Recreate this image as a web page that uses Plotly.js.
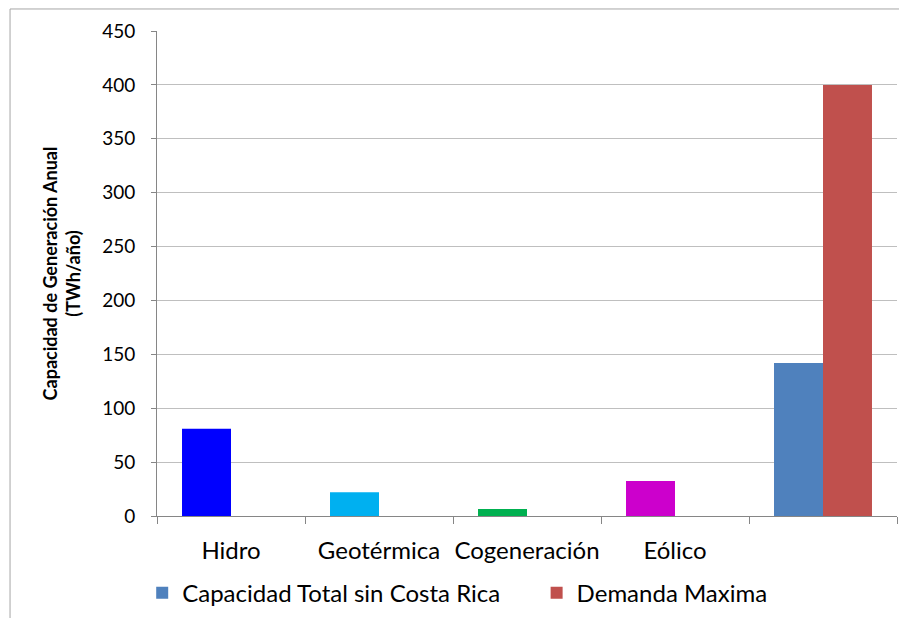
<!DOCTYPE html>
<html>
<head>
<meta charset="utf-8">
<script src="https://cdn.plot.ly/plotly-3.0.1.min.js"></script>
<style>html,body{margin:0;padding:0;background:#fff;}#chart{width:899px;height:618px;}</style>
</head>
<body>
<div id="chart"></div>
<script>
const categories = ["Hidro", "Geotérmica", "Cogeneración", "Eólico", " "];
const seriesNames = ["Capacidad Total sin Costa Rica", "Demanda Maxima"];
const capacidad = [81, 22, 6.5, 32.5, 142];
const demanda = [null, null, null, null, 400];
const capacidadColors = ["#0000FF", "#00B0F0", "#00B050", "#CC00CC", "#4F81BD"];
const seriesColors = ["#4F81BD", "#C0504D"];
const yTicks = [0, 50, 100, 150, 200, 250, 300, 350, 400, 450];

const font = "Lato, 'Open Sans', 'Liberation Sans', sans-serif";

const traces = [
  {type: "bar", x: categories, y: capacidad, name: seriesNames[0], offsetgroup: "a",
   marker: {color: capacidadColors}, showlegend: false, hoverinfo: "x+y"},
  {type: "bar", x: categories, y: categories.map(() => null), name: seriesNames[0], offsetgroup: "a",
   marker: {color: seriesColors[0]}, showlegend: true, legend: "legend"},
  {type: "bar", x: categories, y: demanda, name: seriesNames[1], offsetgroup: "b",
   marker: {color: seriesColors[1]}, showlegend: true, legend: "legend2"}
];

const legendCommon = {orientation: "h", xanchor: "left", y: -0.159, yanchor: "middle",
  font: {size: 24, family: font}, itemwidth: 30, bgcolor: "rgba(0,0,0,0)"};

const layout = {
  width: 899, height: 618,
  margin: {l: 157, r: 2, t: 31, b: 102},
  paper_bgcolor: "#fff", plot_bgcolor: "#fff",
  font: {family: font, size: 19, color: "#000"},
  barmode: "group", bargap: 0.338, bargroupgap: 0,
  xaxis: {type: "category", tickson: "boundaries", ticks: "outside", ticklen: 7,
    tickcolor: "#868686", showline: true, linecolor: "#868686", linewidth: 1,
    showgrid: false, tickangle: 0, tickfont: {size: 24, family: font}, ticklabelstandoff: 13, automargin: false},
  yaxis: {range: [0, 450], tickvals: yTicks, ticks: "outside", ticklen: 5,
    tickcolor: "#868686", showline: true, linecolor: "#868686", linewidth: 1,
    gridcolor: "#BFBFBF", gridwidth: 1, zeroline: false, ticklabelstandoff: 12,
    tickfont: {size: 19, family: font}, automargin: false,
    title: {text: "<b>Capacidad de Generación Anual</b><br><b>(TWh/año)</b>",
      font: {size: 18, family: font}, standoff: 16}},
  legend: Object.assign({}, legendCommon, {x: -0.02}),
  legend2: Object.assign({}, legendCommon, {x: 0.513}),
  shapes: [
    {type: "line", xref: "paper", yref: "paper", x0: -0.1986, x1: -0.1986, y0: 1.0454, y1: -0.3,
     line: {color: "#A6A6A6", width: 1}},
    {type: "line", xref: "paper", yref: "paper", x0: -0.1986, x1: 1.01, y0: 1.0454, y1: 1.0454,
     line: {color: "#A6A6A6", width: 1}}
  ],
  showlegend: true
};

Plotly.newPlot("chart", traces, layout, {displayModeBar: false, staticPlot: true});
</script>
</body>
</html>
